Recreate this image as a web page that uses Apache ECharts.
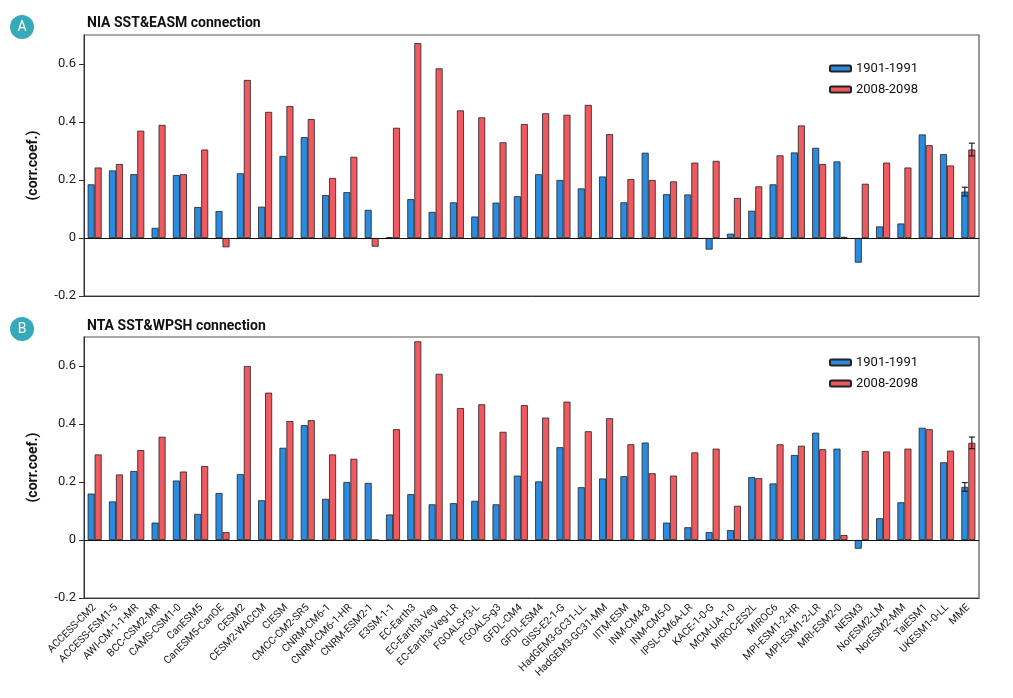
<!DOCTYPE html>
<html><head><meta charset="utf-8">
<script src="https://cdn.jsdelivr.net/npm/echarts@6/dist/echarts.min.js"></script>
<style>html,body{margin:0;background:#fff}#c{width:1013px;height:698px}</style>
</head><body><div id="c"></div>
<script>
var models = ['ACCESS-CM2','ACCESS-ESM1-5','AWI-CM-1-1-MR','BCC-CSM2-MR','CAMS-CSM1-0','CanESM5','CanESM5-CanOE','CESM2','CESM2-WACCM','CIESM','CMCC-CM2-SR5','CNRM-CM6-1','CNRM-CM6-1-HR','CNRM-ESM2-1','E3SM-1-1','EC-Earth3','EC-Earth3-Veg','EC-Earth3-Veg-LR','FGOALS-f3-L','FGOALS-g3','GFDL-CM4','GFDL-ESM4','GISS-E2-1-G','HadGEM3-GC31-LL','HadGEM3-GC31-MM','IITM-ESM','INM-CM4-8','INM-CM5-0','IPSL-CM6A-LR','KACE-1-0-G','MCM-UA-1-0','MIROC-ES2L','MIROC6','MPI-ESM1-2-HR','MPI-ESM1-2-LR','MRI-ESM2-0','NESM3','NorESM2-LM','NorESM2-MM','TaiESM1','UKESM1-0-LL','MME'];
var easmPast = [0.185,0.233,0.22,0.035,0.217,0.107,0.093,0.223,0.108,0.283,0.348,0.148,0.158,0.097,0.003,0.134,0.09,0.123,0.074,0.122,0.144,0.22,0.2,0.171,0.212,0.123,0.294,0.151,0.15,-0.04,0.015,0.094,0.185,0.295,0.311,0.264,-0.085,0.04,0.05,0.357,0.289,0.16];
var easmFuture = [0.243,0.255,0.37,0.39,0.22,0.305,-0.032,0.545,0.435,0.455,0.41,0.207,0.28,-0.03,0.38,0.672,0.585,0.44,0.416,0.33,0.393,0.43,0.425,0.459,0.358,0.203,0.2,0.195,0.26,0.266,0.138,0.178,0.285,0.388,0.255,0.004,0.187,0.26,0.243,0.32,0.25,0.305];
var wpshPast = [0.16,0.133,0.238,0.06,0.205,0.09,0.162,0.227,0.137,0.318,0.396,0.142,0.2,0.197,0.088,0.158,0.123,0.127,0.135,0.123,0.222,0.202,0.32,0.182,0.212,0.22,0.336,0.06,0.044,0.027,0.034,0.217,0.195,0.293,0.37,0.315,-0.03,0.075,0.13,0.387,0.268,0.183];
var wpshFuture = [0.295,0.226,0.31,0.356,0.236,0.255,0.027,0.6,0.508,0.41,0.413,0.295,0.28,0.0,0.382,0.685,0.573,0.455,0.468,0.373,0.465,0.422,0.477,0.375,0.42,0.33,0.23,0.222,0.302,0.315,0.118,0.213,0.33,0.325,0.313,0.017,0.307,0.305,0.315,0.382,0.308,0.335];
// MME spread: [past, future]
var easmErr = [0.015, 0.022];
var wpshErr = [0.015, 0.02];

var blue = '#2a8be0', red = '#ee5a5f';
var font = 'Roboto';

function errSeries(idx, val, err, offset){
  return {
    type:'custom', xAxisIndex:idx, yAxisIndex:idx, z:10,
    data:[[models.length-1, val - err, val + err]],
    renderItem:function(params, api){
      var lo = api.coord([api.value(0), api.value(1)]);
      var hi = api.coord([api.value(0), api.value(2)]);
      var x = lo[0] + offset, w = 3;
      var st = {stroke:'#222', lineWidth:1.2};
      return {type:'group', children:[
        {type:'line', shape:{x1:x,y1:lo[1],x2:x,y2:hi[1]}, style:st},
        {type:'line', shape:{x1:x-w,y1:lo[1],x2:x+w,y2:lo[1]}, style:st},
        {type:'line', shape:{x1:x-w,y1:hi[1],x2:x+w,y2:hi[1]}, style:st}
      ]};
    }
  };
}

function bar(name, idx, data, color, zero){
  var s = {
    name:name, type:'bar', xAxisIndex:idx, yAxisIndex:idx, data:data,
    barWidth:7, barGap:'0%',
    itemStyle:{color:color, borderColor:'#222', borderWidth:0.8}
  };
  if (zero) s.markLine = {silent:true, symbol:'none', label:{show:false},
    lineStyle:{color:'#111', type:'solid', width:1.2}, data:[{yAxis:0}]};
  return s;
}

var grids = [
  {left:84, top:35, width:895, height:261, show:true, borderColor:'#555', borderWidth:1.2},
  {left:84, top:337, width:895, height:261, show:true, borderColor:'#555', borderWidth:1.2}
];
function xax(i, labels){
  return {type:'category', gridIndex:i, data:models,
    axisLine:{onZero:false, lineStyle:{color:'#333'}},
    axisTick:{alignWithLabel:true, length:6, inside:false, lineStyle:{color:'#333'}},
    axisLabel:{show:labels, rotate:45, fontSize:10.5, color:'#222', fontFamily:font, interval:0, margin:8}};
}
function yax(i){
  return {type:'value', gridIndex:i, min:-0.2, max:0.7, interval:0.2,
    name:'(corr.coef.)', nameLocation:'middle', nameGap:44,
    nameTextStyle:{fontSize:14, color:'#111', fontFamily:font, fontWeight:'bold'},
    axisLine:{show:true, lineStyle:{color:'#333'}},
    axisTick:{show:true, length:5},
    splitLine:{show:false},
    axisLabel:{fontSize:13, color:'#222', fontFamily:font, showMaxLabel:false,
      formatter:function(v){ if (v > 0.65) return ''; return v===0 ? '0' : String(Math.round(v*10)/10); }}};
}

var chart = echarts.init(document.getElementById('c'));
chart.setOption({
  backgroundColor:'#fff',
  animation:false,
  title:[
    {text:'NIA SST&EASM connection', left:82, top:11, textStyle:{fontSize:14, fontWeight:'bold', color:'#111', fontFamily:font}},
    {text:'NTA SST&WPSH connection', left:82, top:314, textStyle:{fontSize:14, fontWeight:'bold', color:'#111', fontFamily:font}}
  ],
  graphic:[
    {type:'circle', shape:{cx:22, cy:27, r:12}, style:{fill:'#36aab8'}},
    {type:'text', x:22, y:27, style:{text:'A', fill:'#fff', fontSize:14, fontFamily:font, align:'center', verticalAlign:'middle'}},
    {type:'circle', shape:{cx:22, cy:329, r:12}, style:{fill:'#36aab8'}},
    {type:'text', x:22, y:329, style:{text:'B', fill:'#fff', fontSize:14, fontFamily:font, align:'center', verticalAlign:'middle'}}
  ],
  legend:[
    {data:['1901-1991','2008-2098'], left:824, top:57, orient:'vertical', itemGap:8, itemWidth:21, itemHeight:6,
      textStyle:{fontSize:13, color:'#111', fontFamily:font}},
    {data:['1901-1991 ','2008-2098 '], left:824, top:351, orient:'vertical', itemGap:8, itemWidth:21, itemHeight:6,
      textStyle:{fontSize:13, color:'#111', fontFamily:font}}
  ],
  grid:grids,
  xAxis:[xax(0,false), xax(1,true)],
  yAxis:[yax(0), yax(1)],
  series:[
    bar('1901-1991',0,easmPast,blue,true),
    bar('2008-2098',0,easmFuture,red,false),
    bar('1901-1991 ',1,wpshPast,blue,true),
    bar('2008-2098 ',1,wpshFuture,red,false),
    errSeries(0, easmPast[models.length-1], easmErr[0], -3.5),
    errSeries(0, easmFuture[models.length-1], easmErr[1], 3.5),
    errSeries(1, wpshPast[models.length-1], wpshErr[0], -3.5),
    errSeries(1, wpshFuture[models.length-1], wpshErr[1], 3.5)
  ]
});
</script></body></html>
